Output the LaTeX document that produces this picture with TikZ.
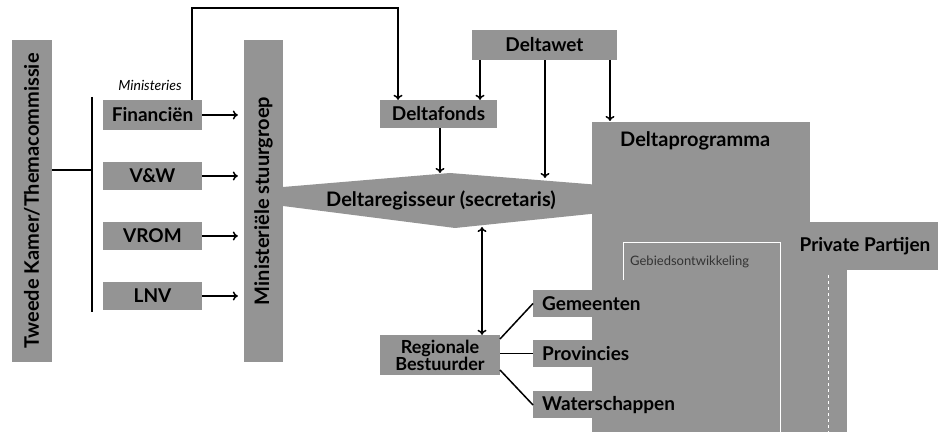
\documentclass[tikz,border=0pt]{standalone}
\usepackage{fontspec}
\setmainfont{Lato}
\usetikzlibrary{arrows.meta}
\definecolor{boxgray}{RGB}{148,148,148}
\tikzset{
  gbox/.style={fill=boxgray, draw=none, inner sep=0pt, font=\bfseries\fontsize{19}{21}\selectfont, text=black},
  conn/.style={line width=1.5pt, draw=black},
  arr/.style={conn, -{To[length=5pt,width=9pt,line width=1.5pt]}},
  darr/.style={conn, {To[length=5pt,width=9pt,line width=1.5pt]}-{To[length=5pt,width=9pt,line width=1.5pt]}},
}
\begin{document}
\begin{tikzpicture}[x=1pt,y=-1pt]
\useasboundingbox (0,0) rectangle (946,435);
\fill[white] (0,0) rectangle (946,435);

% Deltaprogramma composite region
\fill[boxgray] (592,122) rectangle (810,432);
\fill[boxgray] (792,222) rectangle (847,432);
\node[gbox, minimum width=146pt, minimum height=48pt] (pp) at (865,246) {Private Partijen};
\node[gbox, fill=none, anchor=west, font=\bfseries\fontsize{20}{22}\selectfont] (dp) at (620,141) {Deltaprogramma};
\draw[white, line width=0.8pt] (623,280) -- (623,242) -- (780,242) -- (780,432);
\node[font=\fontsize{13}{14}\selectfont, text=black!80, anchor=west, inner sep=0pt] (geb) at (630,262) {Gebiedsontwikkeling};
\draw[white, line width=0.6pt, dashed] (828,275) -- (828,432);

% Tweede Kamer
\node[gbox, rotate=90, minimum width=322pt, minimum height=40pt, font=\bfseries\fontsize{20}{22}\selectfont] (tk) at (32,201) {Tweede Kamer/Themacommissie};
\coordinate (bartop) at (92,97);
\coordinate (barbot) at (92,312);
\coordinate (barmid) at (92,170);
\draw[conn] (bartop) -- (barbot);
\draw[conn] (tk.south |- barmid) -- (barmid);

\node[font=\itshape\fontsize{14}{16}\selectfont, inner sep=0pt] (minlab) at (150,85) {Ministeries};

\node[gbox, minimum width=99pt, minimum height=30pt] (fin) at (152.5,115) {Financiën};
\node[gbox, minimum width=99pt, minimum height=28pt] (vw) at (152.5,176) {V\&W};
\node[gbox, minimum width=99pt, minimum height=28pt] (vrom) at (152.5,236) {VROM};
\node[gbox, minimum width=99pt, minimum height=28pt] (lnv) at (152.5,296) {LNV};

\node[gbox, rotate=90, minimum width=322pt, minimum height=39pt, font=\bfseries\fontsize{20}{22}\selectfont] (msg) at (263.5,201) {Ministeriële stuurgroep};

\foreach \m in {fin,vw,vrom,lnv}{
  \draw[arr, shorten >=6pt] (\m.east) -- (msg.north |- \m.east);
}

% Deltaregisseur shape
\coordinate (dl1) at (283,187);
\coordinate (dtop) at (450,173);
\coordinate (dr1) at (600,185);
\coordinate (dr2) at (600,213);
\coordinate (dbot) at (455,228);
\coordinate (dl2) at (283,206);
\fill[boxgray] (dl1) -- (dtop) -- (dr1) -- (dr2) -- (dbot) -- (dl2) -- cycle;
\node[gbox, fill=none, font=\bfseries\fontsize{20}{22}\selectfont] (dreg) at (441,200) {Deltaregisseur (secretaris)};

\node[gbox, minimum width=117pt, minimum height=28pt] (dfonds) at (438.5,114) {Deltafonds};
\node[gbox, minimum width=145pt, minimum height=30pt] (dwet) at (544.5,45) {Deltawet};

% Financien to Deltafonds
\coordinate (f1) at (192,8);
\coordinate (f2) at (398,8);
\draw[arr] (fin.north -| f1) -- (f1) -- (f2) -- (dfonds.north -| f2);

% Deltawet arrows
\coordinate (w1) at (480,0);
\coordinate (w2) at (545,178);
\coordinate (w3) at (610,121);
\draw[arr] (dwet.south -| w1) -- (dfonds.north -| w1);
\draw[arr] (dwet.south -| w2) -- (w2);
\draw[arr] (dwet.south -| w3) -- (w3);

\coordinate (fd) at (440,173);
\draw[arr] (dfonds.south -| fd) -- (fd);

% Regionale
\node[gbox, minimum width=120pt, minimum height=40pt, align=center, font=\bfseries\fontsize{18}{17}\selectfont] (reg) at (440,355) {\bfseries\fontsize{18}{17}\selectfont Regionale\\\bfseries\fontsize{18}{17}\selectfont Bestuurder};
\coordinate (rd) at (482,227);
\draw[darr] (rd) -- (reg.north -| rd);

\node[gbox, anchor=west, minimum height=27pt, inner xsep=9pt] (gem) at (533,303.5) {Gemeenten};
\node[gbox, anchor=west, minimum height=27pt, inner xsep=9pt] (prov) at (533,353.5) {Provincies};
\node[gbox, anchor=west, minimum height=27pt, inner xsep=9pt] (wat) at (533,405) {Waterschappen};

\draw[conn] (500,339) -- (gem.west);
\draw[conn] (reg.east |- prov.west) -- (prov.west);
\draw[conn] (500,370) -- (wat.west);
\end{tikzpicture}
\end{document}
